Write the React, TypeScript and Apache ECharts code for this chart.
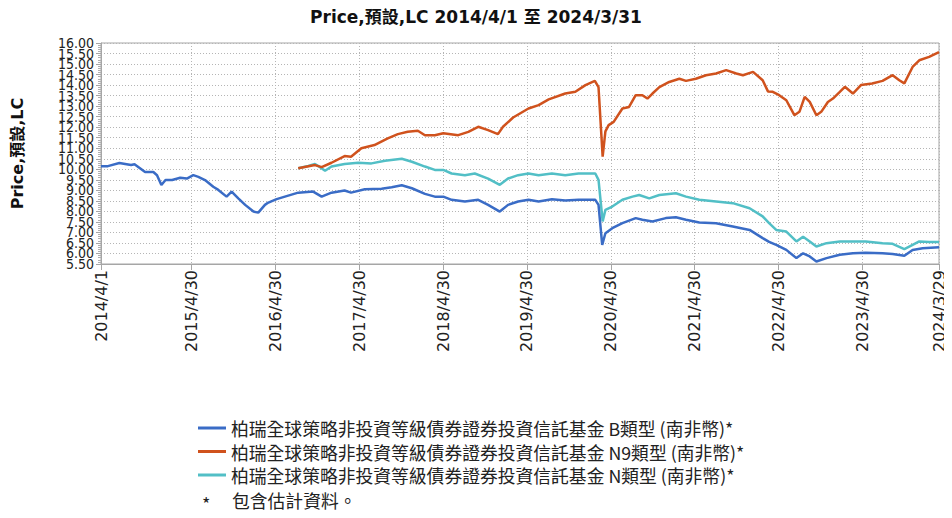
import React, { useEffect, useRef } from "react";
import * as echarts from "echarts";

const TITLE = "Price,預設,LC 2014/4/1 至 2024/3/31";
const Y_NAME = "Price,預設,LC";
const NOTE_MARK = "*";
const NOTE_TEXT = "包含估計資料。";

const SERIES_NAMES = [
  "柏瑞全球策略非投資等級債券證券投資信託基金 B類型 (南非幣)*",
  "柏瑞全球策略非投資等級債券證券投資信託基金 N9類型 (南非幣)*",
  "柏瑞全球策略非投資等級債券證券投資信託基金 N類型 (南非幣)*",
];
const SERIES_COLORS = ["#3a6cc6", "#d0521d", "#52bfc6"];

const X_TICK_LABELS = [
  "2014/4/1", "2015/4/30", "2016/4/30", "2017/4/30", "2018/4/30", "2019/4/30",
  "2020/4/30", "2021/4/30", "2022/4/30", "2023/4/30", "2024/3/29",
];
const Y_TICK_LABELS = [
  "5.50", "6.00", "6.50", "7.00", "7.50", "8.00", "8.50", "9.00", "9.50", "10.00", "10.50",
  "11.00", "11.50", "12.00", "12.50", "13.00", "13.50", "14.00", "14.50", "15.00", "15.50", "16.00",
];
const Y_MIN = 5.5;
const Y_MAX = 16;
const Y_STEP = 0.5;

const B_POINTS: [string, number][] = [
  ["2014-04-01", 10.15], ["2014-05-01", 10.15], ["2014-06-20", 10.3], ["2014-08-10", 10.2],
  ["2014-08-25", 10.24], ["2014-10-10", 9.87], ["2014-11-15", 9.87], ["2014-12-01", 9.72],
  ["2014-12-20", 9.25], ["2015-01-07", 9.49], ["2015-02-05", 9.49], ["2015-03-12", 9.6],
  ["2015-04-10", 9.56], ["2015-05-08", 9.72], ["2015-05-30", 9.64], ["2015-06-28", 9.49],
  ["2015-08-03", 9.17], ["2015-08-25", 9.02], ["2015-09-30", 8.7], ["2015-10-22", 8.94],
  ["2015-11-20", 8.62], ["2015-12-20", 8.31], ["2016-01-25", 7.99], ["2016-02-15", 7.94],
  ["2016-03-15", 8.31], ["2016-03-30", 8.42], ["2016-05-05", 8.58], ["2016-06-10", 8.7],
  ["2016-08-07", 8.89], ["2016-10-11", 8.94], ["2016-11-17", 8.7], ["2016-12-30", 8.89],
  ["2017-02-25", 8.99], ["2017-03-25", 8.89], ["2017-05-24", 9.05], ["2017-08-05", 9.08],
  ["2017-09-18", 9.15], ["2017-11-01", 9.24], ["2017-12-15", 9.1], ["2018-02-10", 8.83],
  ["2018-03-25", 8.7], ["2018-05-01", 8.7], ["2018-06-06", 8.55], ["2018-08-03", 8.47],
  ["2018-09-30", 8.55], ["2018-11-12", 8.31], ["2019-01-02", 7.99], ["2019-02-07", 8.31],
  ["2019-03-23", 8.47], ["2019-05-07", 8.55], ["2019-06-20", 8.47], ["2019-08-17", 8.58],
  ["2019-10-14", 8.52], ["2019-12-11", 8.55], ["2020-02-22", 8.55], ["2020-03-07", 8.31],
  ["2020-03-23", 6.41], ["2020-04-06", 6.96], ["2020-05-06", 7.2], ["2020-06-19", 7.44],
  ["2020-08-16", 7.68], ["2020-09-14", 7.6], ["2020-10-28", 7.52], ["2020-12-25", 7.68],
  ["2021-02-07", 7.72], ["2021-03-23", 7.6], ["2021-05-20", 7.47], ["2021-08-01", 7.44],
  ["2021-10-13", 7.28], ["2021-12-25", 7.12], ["2022-02-20", 6.73], ["2022-03-20", 6.55],
  ["2022-04-20", 6.41], ["2022-06-03", 6.17], ["2022-07-17", 5.78], ["2022-08-15", 6.01],
  ["2022-09-13", 5.86], ["2022-10-12", 5.62], ["2022-11-25", 5.78], ["2023-01-22", 5.94],
  ["2023-03-20", 6.01], ["2023-05-15", 6.04], ["2023-07-27", 6.01], ["2023-09-09", 5.98],
  ["2023-10-30", 5.89], ["2023-12-05", 6.17], ["2024-01-18", 6.25], ["2024-03-29", 6.3],
];

const N9_POINTS: [string, number][] = [
  ["2016-08-07", 10.05], ["2016-10-19", 10.2], ["2016-11-17", 10.1], ["2016-12-30", 10.31],
  ["2017-02-25", 10.63], ["2017-03-25", 10.6], ["2017-05-09", 11.0], ["2017-07-05", 11.15],
  ["2017-09-01", 11.47], ["2017-10-15", 11.67], ["2017-11-27", 11.78], ["2018-01-10", 11.83],
  ["2018-02-10", 11.62], ["2018-03-25", 11.62], ["2018-05-01", 11.71], ["2018-07-05", 11.62],
  ["2018-08-18", 11.78], ["2018-09-30", 12.02], ["2018-11-12", 11.86], ["2018-12-25", 11.67],
  ["2019-01-16", 12.02], ["2019-03-01", 12.46], ["2019-05-07", 12.89], ["2019-06-20", 13.05],
  ["2019-08-03", 13.32], ["2019-10-14", 13.6], ["2019-11-27", 13.68], ["2020-01-10", 14.0],
  ["2020-02-20", 14.2], ["2020-03-07", 13.9], ["2020-03-25", 10.6], ["2020-04-06", 11.8],
  ["2020-04-20", 12.1], ["2020-05-12", 12.25], ["2020-06-19", 12.89], ["2020-07-18", 12.96],
  ["2020-08-16", 13.52], ["2020-09-14", 13.52], ["2020-10-06", 13.36], ["2020-10-28", 13.6],
  ["2020-11-27", 13.9], ["2021-01-09", 14.15], ["2021-02-22", 14.3], ["2021-03-23", 14.2],
  ["2021-05-05", 14.3], ["2021-06-18", 14.47], ["2021-08-01", 14.55], ["2021-09-14", 14.71],
  ["2021-10-28", 14.55], ["2021-11-26", 14.47], ["2022-01-09", 14.63], ["2022-02-20", 14.23],
  ["2022-03-15", 13.7], ["2022-04-05", 13.68], ["2022-05-03", 13.52], ["2022-06-03", 13.28],
  ["2022-07-08", 12.57], ["2022-07-30", 12.73], ["2022-08-22", 13.44], ["2022-09-13", 13.2],
  ["2022-10-12", 12.57], ["2022-11-02", 12.73], ["2022-12-01", 13.2], ["2022-12-23", 13.36],
  ["2023-01-22", 13.68], ["2023-02-13", 13.92], ["2023-03-20", 13.6], ["2023-04-24", 14.0],
  ["2023-06-12", 14.08], ["2023-07-27", 14.2], ["2023-09-09", 14.47], ["2023-10-08", 14.23],
  ["2023-10-30", 14.08], ["2023-12-05", 14.86], ["2024-01-03", 15.18], ["2024-02-15", 15.34],
  ["2024-03-29", 15.57],
];

const N_POINTS: [string, number][] = [
  ["2016-08-07", 10.05], ["2016-09-20", 10.16], ["2016-10-19", 10.25], ["2016-11-10", 10.1],
  ["2016-12-02", 9.93], ["2016-12-30", 10.13], ["2017-02-25", 10.25], ["2017-04-25", 10.31],
  ["2017-06-22", 10.28], ["2017-08-20", 10.41], ["2017-11-01", 10.5], ["2017-12-15", 10.36],
  ["2018-02-10", 10.13], ["2018-03-25", 9.97], ["2018-05-01", 9.97], ["2018-06-06", 9.8],
  ["2018-08-03", 9.72], ["2018-09-15", 9.8], ["2018-11-12", 9.56], ["2019-01-02", 9.26],
  ["2019-02-07", 9.56], ["2019-03-23", 9.72], ["2019-05-07", 9.8], ["2019-06-20", 9.72],
  ["2019-08-17", 9.8], ["2019-10-14", 9.72], ["2019-12-11", 9.8], ["2020-02-22", 9.8],
  ["2020-03-07", 9.5], ["2020-03-25", 7.52], ["2020-04-06", 8.07], ["2020-05-06", 8.23],
  ["2020-06-19", 8.55], ["2020-08-02", 8.7], ["2020-08-31", 8.78], ["2020-10-14", 8.62],
  ["2020-11-27", 8.78], ["2021-02-07", 8.86], ["2021-03-23", 8.7], ["2021-05-20", 8.55],
  ["2021-08-01", 8.47], ["2021-10-13", 8.39], ["2021-12-25", 8.15], ["2022-02-20", 7.76],
  ["2022-03-20", 7.44], ["2022-04-20", 7.12], ["2022-06-03", 7.04], ["2022-07-17", 6.57],
  ["2022-08-15", 6.8], ["2022-09-13", 6.57], ["2022-10-12", 6.33], ["2022-11-25", 6.49],
  ["2023-01-22", 6.57], ["2023-03-20", 6.57], ["2023-05-15", 6.57], ["2023-07-27", 6.49],
  ["2023-09-09", 6.46], ["2023-10-30", 6.21], ["2023-12-05", 6.41], ["2024-01-03", 6.57],
  ["2024-02-15", 6.54], ["2024-03-29", 6.54],
];

const parseSlashDate = (s: string) => {
  const [y, m, d] = s.split("/").map(Number);
  return new Date(y, m - 1, d).getTime();
};
const parseDashDate = (s: string) => {
  const [y, m, d] = s.split("-").map(Number);
  return new Date(y, m - 1, d).getTime();
};

const AXIS_FONT = "'DejaVu Sans', 'Noto Sans CJK TC', sans-serif";
const YLABEL_FONT = "'DejaVu Sans Condensed', 'Liberation Sans', sans-serif";
const CJK_FONT = "'Noto Sans CJK TC', 'DejaVu Sans', sans-serif";

export default function App() {
  const ref = useRef<HTMLDivElement>(null);

  useEffect(() => {
    if (!ref.current) return;
    const chart = echarts.init(ref.current, null, { renderer: "svg" });
    const tickValues = X_TICK_LABELS.map(parseSlashDate);
    const allPoints = [B_POINTS, N9_POINTS, N_POINTS];
    const yValues = Y_TICK_LABELS.map(Number);
    const yEven = yValues.filter((_, i) => i % 2 === 0);
    const yOdd = yValues.filter((_, i) => i % 2 === 1);

    const yLabelStyle = {
      margin: 7,
      fontFamily: YLABEL_FONT,
      fontSize: 14,
      color: "#222",
      formatter: (v: number) => v.toFixed(2),
    };

    chart.setOption({
      animation: false,
      backgroundColor: "#ffffff",
      title: {
        text: TITLE,
        left: "center",
        top: 3,
        textStyle: { fontFamily: AXIS_FONT, fontSize: 17, fontWeight: "bold", color: "#111" },
      },
      grid: {
        left: 101,
        top: 43,
        width: 838,
        height: 221,
        show: true,
        borderColor: "#a6a6a6",
        borderWidth: 1,
        containLabel: false,
      },
      legend: {
        orient: "vertical",
        left: 198,
        top: 418,
        padding: 0,
        itemWidth: 28,
        itemHeight: 3,
        itemGap: 3.5,
        icon: "rect",
        textStyle: { fontFamily: CJK_FONT, fontSize: 17.8, color: "#222", lineHeight: 20 },
        data: SERIES_NAMES,
      },
      graphic: [
        {
          type: "text",
          left: 202,
          top: 494,
          style: { text: NOTE_MARK, font: `18px ${CJK_FONT}`, fill: "#222" },
        },
        {
          type: "text",
          left: 232,
          top: 491,
          style: { text: NOTE_TEXT, font: `17.8px ${CJK_FONT}`, fill: "#222" },
        },
      ],
      xAxis: {
        type: "value",
        min: tickValues[0],
        max: tickValues[tickValues.length - 1],
        axisLine: { show: true, lineStyle: { color: "#a6a6a6" } },
        axisTick: {
          show: true,
          customValues: tickValues,
          length: 6,
          lineStyle: { color: "#a6a6a6" },
        },
        axisLabel: {
          customValues: tickValues,
          rotate: 90,
          margin: 6,
          fontFamily: AXIS_FONT,
          fontSize: 16,
          color: "#222",
          formatter: (v: number) => {
            const d = new Date(v);
            return `${d.getFullYear()}/${d.getMonth() + 1}/${d.getDate()}`;
          },
        },
        splitLine: { show: true, lineStyle: { color: "#b5b5b5", type: [1, 2], width: 1 } },
      },
      yAxis: [
        {
          type: "value",
          position: "left",
          min: Y_MIN,
          max: Y_MAX,
          interval: Y_STEP,
          name: Y_NAME,
          nameLocation: "middle",
          nameRotate: 90,
          nameGap: 76,
          nameTextStyle: { fontFamily: AXIS_FONT, fontSize: 16, fontWeight: "bold", color: "#111" },
          axisLine: { show: true, lineStyle: { color: "#a6a6a6" } },
          axisTick: { show: true, length: 5, lineStyle: { color: "#a6a6a6" } },
          minorTick: { show: true, splitNumber: 5, length: 3, lineStyle: { color: "#b0b0b0" } },
          axisLabel: { ...yLabelStyle, customValues: yEven },
          splitLine: { show: true, lineStyle: { color: "#b5b5b5", type: [1, 2], width: 1 } },
        },
        {
          type: "value",
          position: "left",
          offset: 0,
          min: Y_MIN,
          max: Y_MAX,
          interval: Y_STEP,
          axisLine: { show: false },
          axisTick: { show: false },
          splitLine: { show: false },
          axisLabel: { ...yLabelStyle, customValues: yOdd },
        },
      ],
      series: SERIES_NAMES.map((name, i) => ({
        name,
        type: "line",
        yAxisIndex: 0,
        data: allPoints[i].map(([d, v]) => [parseDashDate(d), v]),
        showSymbol: false,
        symbol: "none",
        color: SERIES_COLORS[i],
        lineStyle: { width: 2.5, color: SERIES_COLORS[i] },
        z: 3 - i,
      })),
    });

    return () => chart.dispose();
  }, []);

  return <div ref={ref} style={{ width: 952, height: 518, margin: -8 }} />;
}
